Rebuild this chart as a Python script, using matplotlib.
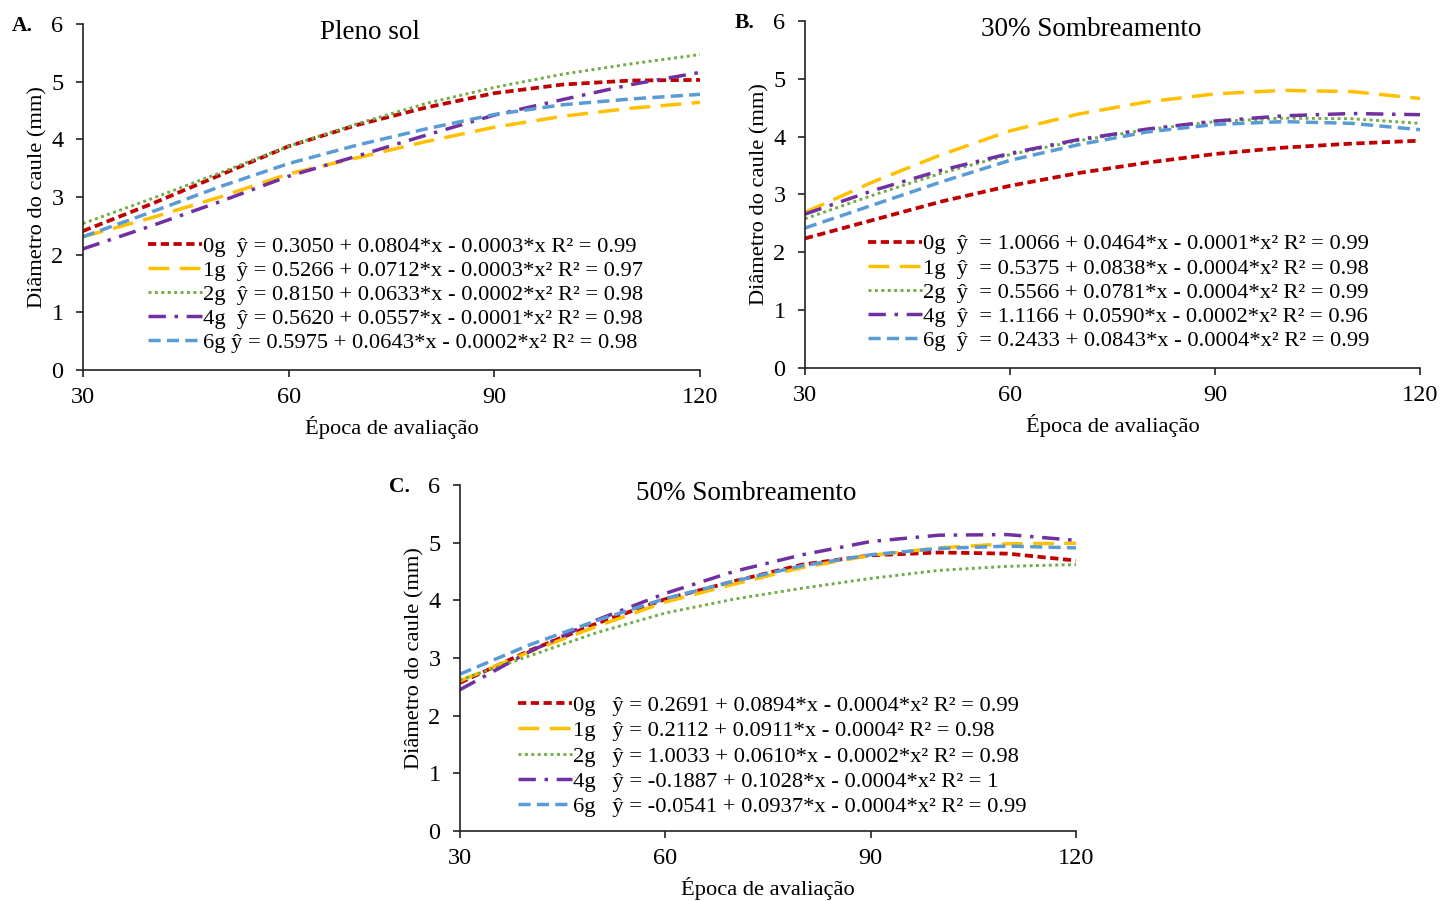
import matplotlib
matplotlib.use("Agg")
import matplotlib.pyplot as plt

plt.rcParams['font.family'] = ['Liberation Serif', 'DejaVu Serif']

# dias de avaliacao
days = [30, 40, 50, 60, 70, 80, 90, 100, 110, 120]

# A. Pleno sol
a_0g = [2.41, 2.88, 3.38, 3.88, 4.25, 4.55, 4.80, 4.95, 5.02, 5.03]
a_1g = [2.31, 2.64, 3.00, 3.40, 3.68, 3.96, 4.21, 4.40, 4.54, 4.64]
a_2g = [2.54, 2.97, 3.42, 3.88, 4.27, 4.62, 4.90, 5.13, 5.31, 5.47]
a_4g = [2.10, 2.50, 2.92, 3.36, 3.71, 4.07, 4.42, 4.69, 4.95, 5.16]
a_6g = [2.31, 2.74, 3.18, 3.58, 3.90, 4.18, 4.43, 4.60, 4.70, 4.78]

# B. 30% Sombreamento
b_0g = [2.24, 2.56, 2.88, 3.15, 3.37, 3.55, 3.70, 3.81, 3.88, 3.93]
b_1g = [2.69, 3.22, 3.69, 4.10, 4.39, 4.60, 4.74, 4.80, 4.78, 4.66]
b_2g = [2.58, 2.99, 3.37, 3.69, 3.93, 4.12, 4.26, 4.32, 4.31, 4.23]
b_4g = [2.66, 3.07, 3.42, 3.71, 3.95, 4.13, 4.27, 4.36, 4.40, 4.38]
b_6g = [2.42, 2.82, 3.22, 3.59, 3.86, 4.08, 4.21, 4.26, 4.23, 4.12]

# C. 50% Sombreamento
c_0g = [2.57, 3.12, 3.60, 4.02, 4.33, 4.62, 4.78, 4.83, 4.81, 4.69]
c_1g = [2.60, 3.10, 3.55, 3.97, 4.28, 4.57, 4.78, 4.91, 4.98, 4.99]
c_2g = [2.62, 3.03, 3.44, 3.78, 4.02, 4.21, 4.38, 4.52, 4.59, 4.62]
c_4g = [2.45, 3.10, 3.66, 4.12, 4.50, 4.79, 5.02, 5.13, 5.14, 5.04]
c_6g = [2.72, 3.22, 3.65, 4.03, 4.33, 4.60, 4.79, 4.90, 4.94, 4.91]

labels_a = ["0g  ŷ = 0.3050 + 0.0804*x - 0.0003*x R² = 0.99",
            "1g  ŷ = 0.5266 + 0.0712*x - 0.0003*x² R² = 0.97",
            "2g  ŷ = 0.8150 + 0.0633*x - 0.0002*x² R² = 0.98",
            "4g  ŷ = 0.5620 + 0.0557*x - 0.0001*x² R² = 0.98",
            "6g ŷ = 0.5975 + 0.0643*x - 0.0002*x² R² = 0.98"]
labels_b = ["0g  ŷ  = 1.0066 + 0.0464*x - 0.0001*x² R² = 0.99",
            "1g  ŷ  = 0.5375 + 0.0838*x - 0.0004*x² R² = 0.98",
            "2g  ŷ  = 0.5566 + 0.0781*x - 0.0004*x² R² = 0.99",
            "4g  ŷ  = 1.1166 + 0.0590*x - 0.0002*x² R² = 0.96",
            "6g  ŷ  = 0.2433 + 0.0843*x - 0.0004*x² R² = 0.99"]
labels_c = ["0g   ŷ = 0.2691 + 0.0894*x - 0.0004*x² R² = 0.99",
            "1g   ŷ = 0.2112 + 0.0911*x - 0.0004² R² = 0.98",
            "2g   ŷ = 1.0033 + 0.0610*x - 0.0002*x² R² = 0.98",
            "4g   ŷ = -0.1887 + 0.1028*x - 0.0004*x² R² = 1",
            "6g   ŷ = -0.0541 + 0.0937*x - 0.0004*x² R² = 0.99"]

colors = ["#C00000", "#FFC000", "#70AD47", "#7030A0", "#5B9BD5"]
styles = [(0, (2.2, 1.2)), (0, (6, 3)), (0, (1, 1.2)), (0, (5, 2.5, 1, 2.5)), (0, (3.5, 1.8))]
widths = [2.7, 2.5, 2.1, 2.5, 2.5]

fig = plt.figure(figsize=(14.4, 9.01), dpi=100)

panels = [
    ([0.0576, 0.5893, 0.4285, 0.3841], [a_0g, a_1g, a_2g, a_4g, a_6g], labels_a, "Pleno sol", "A.", (0.105, 0.387), 0.15),
    ([0.5590, 0.5916, 0.4271, 0.3851], [b_0g, b_1g, b_2g, b_4g, b_6g], labels_b, "30% Sombreamento", "B.", (0.102, 0.387), 0.15),
    ([0.3194, 0.0777, 0.4278, 0.3840], [c_0g, c_1g, c_2g, c_4g, c_6g], labels_c, "50% Sombreamento", "C.", (0.094, 0.392), 0.2),
]

for rect, series, labels, title, letter, leg_pos, spacing in panels:
    ax = fig.add_axes(rect)
    for i in range(len(series)):
        ax.plot(days, series[i], color=colors[i], linestyle=styles[i],
                linewidth=widths[i], label=labels[i])
    ax.set_xlim(30, 120)
    ax.set_ylim(0, 6)
    ax.set_xticks([30, 60, 90, 120])
    ax.set_yticks([0, 1, 2, 3, 4, 5, 6])
    ax.spines['top'].set_visible(False)
    ax.spines['right'].set_visible(False)
    for s in ['left', 'bottom']:
        ax.spines[s].set_linewidth(1.2)
        ax.spines[s].set_color('#222222')
    ax.tick_params(direction='out', length=5, width=1.2, labelsize=17.5, pad=7, color='#222222')
    ax.tick_params(axis='y', pad=9)
    ax.set_xlabel("Época de avaliação", fontsize=16.2, labelpad=6)
    ax.set_ylabel("Diâmetro do caule (mm)", fontsize=16.2, labelpad=3)
    ax.text(0.465, 0.975, title, transform=ax.transAxes, ha='center', va='center', fontsize=19.5)
    ax.text(-0.115, 0.995, letter, transform=ax.transAxes, ha='left', va='center',
            fontsize=15.5, fontweight='bold')
    leg = ax.legend(loc='upper left', bbox_to_anchor=leg_pos, frameon=False, fontsize=16.2,
                    handlelength=2.4, handletextpad=0.05, labelspacing=spacing, borderpad=0,
                    borderaxespad=0)

plt.savefig("out.png", dpi=100)
